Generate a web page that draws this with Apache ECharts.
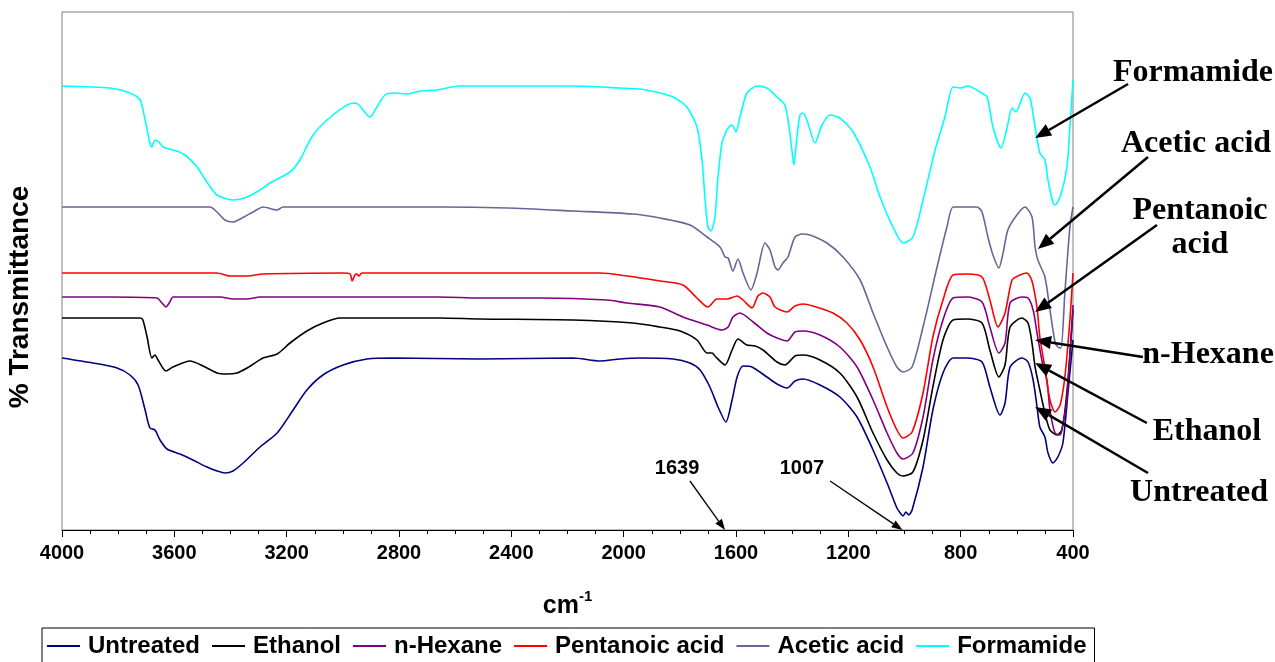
<!DOCTYPE html>
<html>
<head>
<meta charset="utf-8">
<script src="https://cdn.jsdelivr.net/npm/echarts@6/dist/echarts.min.js"></script>
<style>
html,body{margin:0;padding:0;background:#fff;}
#chart{width:1275px;height:662px;}
</style>
</head>
<body>
<div id="chart"></div>
<script>
// Wavenumber (cm-1) vs transmittance (arbitrary, stacked offsets as drawn)
const seriesNames = ['Untreated', 'Ethanol', 'n-Hexane', 'Pentanoic acid', 'Acetic acid', 'Formamide'];
const seriesColors = ['#000080', '#000000', '#800080', '#ff0000', '#666699', '#00ffff'];
const xTicks = [4000, 3600, 3200, 2800, 2400, 2000, 1600, 1200, 800, 400];

const untreated = [[4000,172],[3890,167],[3804,162],[3758,155],[3729,145],[3704,120],[3687,102],[3669,100],[3651,90],[3626,81],[3580,76],[3534,70],[3484,63],[3448,59],[3420,57],[3391,59],[3355,67],[3295,83],[3234,97],[3177,120],[3128,140],[3071,155],[2999,165],[2914,171],[2821,172],[2512,171],[2180,172],[2084,169],[2013,171],[1942,172],[1824,171],[1764,167],[1728,160],[1693,143],[1664,123],[1636,108],[1614,130],[1596,153],[1575,164],[1543,163],[1490,153],[1454,146],[1418,142],[1390,149],[1361,151],[1301,145],[1230,133],[1169,113],[1112,80],[1062,47],[1027,22],[1015,17],[1005,14],[995,18],[985,15],[973,20],[934,63],[899,120],[863,157],[827,172],[777,172],[724,168],[696,143],[660,115],[642,127],[624,163],[582,172],[560,168],[542,150],[528,123],[518,103],[500,93],[489,77],[471,67],[454,73],[436,87],[418,137],[400,190]];

const ethanol = [[4000,212],[3722,212],[3712,210],[3697,193],[3680,172],[3669,175],[3658,170],[3630,159],[3605,163],[3544,169],[3498,164],[3448,157],[3412,156],[3377,157],[3341,162],[3284,172],[3234,176],[3188,187],[3128,199],[3071,207],[3010,212],[2654,212],[2512,211],[2180,210],[1967,207],[1871,203],[1799,199],[1739,190],[1703,177],[1685,177],[1675,174],[1639,165],[1614,180],[1593,191],[1561,185],[1532,184],[1504,180],[1454,168],[1426,165],[1390,174],[1361,175],[1301,170],[1230,157],[1169,133],[1112,97],[1062,70],[1027,57],[1005,54],[970,58],[934,90],[899,143],[863,190],[827,210],[777,211],[724,207],[696,180],[664,153],[642,165],[624,203],[582,212],[560,207],[546,187],[535,163],[518,140],[500,117],[482,100],[457,95],[440,100],[422,137],[400,220]];

const nHexane = [[4000,233],[3829,233],[3662,232],[3644,227],[3630,223],[3616,228],[3605,233],[3437,233],[3391,231],[3341,231],[3295,233],[2654,233],[2512,232],[2298,232],[2059,230],[1988,227],[1871,223],[1789,213],[1703,205],[1650,200],[1628,203],[1611,213],[1586,217],[1539,208],[1490,197],[1454,192],[1418,189],[1390,198],[1361,199],[1301,195],[1230,183],[1169,163],[1112,130],[1062,97],[1027,77],[1005,71],[970,77],[934,113],[899,170],[863,210],[827,232],[777,233],[724,228],[696,203],[664,177],[642,187],[624,227],[582,233],[560,232],[542,220],[528,197],[511,170],[493,150],[482,120],[464,97],[446,95],[436,105],[422,130],[400,225]];

const pentanoic = [[4000,257],[3448,257],[3402,254],[3341,254],[3284,256],[2999,257],[2974,256],[2967,249],[2957,255],[2950,256],[2943,254],[2932,257],[2415,257],[2084,257],[1988,254],[1871,249],[1789,245],[1739,232],[1700,223],[1668,231],[1632,231],[1596,234],[1575,230],[1543,222],[1522,234],[1504,237],[1479,233],[1461,223],[1418,218],[1390,224],[1361,226],[1326,224],[1255,217],[1205,207],[1158,190],[1112,163],[1062,123],[1027,100],[1005,92],[973,98],[934,137],[899,193],[863,230],[827,255],[777,256],[724,253],[696,230],[667,203],[642,217],[617,250],[589,255],[564,257],[546,249],[528,222],[518,193],[500,162],[482,130],[464,118],[446,125],[429,153],[411,210],[400,257]];

const acetic = [[4000,323],[3473,323],[3448,318],[3420,310],[3391,308],[3359,312],[3320,318],[3284,323],[3234,320],[3213,323],[2654,323],[2415,322],[2180,319],[1967,316],[1871,312],[1764,305],[1703,293],[1657,283],[1639,273],[1628,272],[1611,259],[1593,271],[1575,257],[1547,240],[1525,257],[1497,287],[1479,280],[1461,263],[1450,260],[1433,267],[1415,273],[1390,293],[1365,296],[1337,295],[1276,287],[1219,273],[1158,250],[1112,217],[1062,183],[1027,163],[1005,158],[973,163],[934,203],[884,263],[849,303],[827,323],[792,323],[742,323],[724,318],[703,293],[685,275],[664,262],[649,277],[632,300],[600,315],[571,323],[546,313],[535,283],[525,270],[500,253],[482,220],[464,188],[454,183],[443,182],[429,237],[411,303],[400,323]];

const formamide = [[4000,444],[3829,442],[3758,437],[3722,430],[3704,410],[3687,387],[3680,383],[3669,390],[3655,388],[3640,383],[3591,379],[3562,375],[3519,363],[3484,348],[3448,335],[3391,330],[3341,333],[3295,340],[3259,347],[3188,358],[3153,370],[3106,395],[3035,415],[2964,427],[2946,426],[2903,413],[2885,420],[2850,435],[2821,437],[2768,436],[2725,439],[2665,440],[2583,444],[2415,444],[2180,444],[2013,442],[1942,441],[1871,437],[1824,433],[1775,423],[1739,403],[1721,370],[1710,330],[1700,303],[1689,299],[1675,313],[1664,353],[1650,387],[1636,398],[1625,403],[1614,405],[1600,398],[1586,413],[1561,437],[1525,444],[1490,442],[1454,433],[1426,425],[1411,403],[1401,380],[1394,365],[1383,393],[1372,415],[1361,417],[1344,407],[1319,387],[1294,405],[1265,415],[1230,412],[1183,398],[1123,363],[1087,333],[1041,303],[1005,287],[970,293],[934,330],[891,380],[856,413],[827,443],[802,442],[774,444],[731,438],[706,433],[685,403],[656,382],[635,402],[617,422],[603,418],[571,437],[553,432],[535,403],[518,377],[500,370],[489,350],[471,327],[464,325],[446,333],[422,362],[411,403],[400,450]];

// Annotations: label text, label centre, arrow start, arrow tip (data coordinates)
const annLabels = ['Formamide', 'Acetic acid', 'Pentanoic\nacid', 'n-Hexane', 'Ethanol', 'Untreated'];
const annLabelAt = [[-27,457],[-38,386],[-52,302],[-81,175],[-77,98],[-49,37]];
const annFrom = [[204,446],[133,373],[101,305],[151,173],[137,107],[133,57]];
const annTo = [[535,392],[525,281],[535,218],[535,190],[535,167],[535,123]];
const peakLabels = ['1639', '1007'];
const peakLabelAt = [[1810,62],[1365,62]];
const peakFrom = [[1764,49],[1265,49]];
const peakTo = [[1639,0],[1007,0]];

const allData = [untreated, ethanol, nHexane, pentanoic, acetic, formamide];

const chart = echarts.init(document.getElementById('chart'), null, {renderer: 'canvas'});

const option = {
  animation: false,
  backgroundColor: '#ffffff',
  color: seriesColors,
  grid: {left: 62, right: 202, top: 12, bottom: 132, show: true, borderColor: '#808080', borderWidth: 1, backgroundColor: 'transparent'},
  xAxis: {
    type: 'value', min: 400, max: 4000, interval: 400, inverse: true,
    axisLine: {show: true, lineStyle: {color: '#000', width: 1}},
    axisTick: {show: true, length: 7, lineStyle: {color: '#000'}},
    minorTick: {show: true, splitNumber: 4, length: 4, lineStyle: {color: '#000'}},
    splitLine: {show: false},
    axisLabel: {margin: 13, color: '#000', fontSize: 20, fontWeight: 'bold', fontFamily: 'Liberation Sans, Arial, sans-serif',
      formatter: function (v) { return xTicks.indexOf(v) >= 0 ? String(v) : ''; }},
    name: '{a|cm}{b|-1}', nameLocation: 'middle', nameGap: 59,
    nameTextStyle: {rich: {
      a: {fontSize: 25, fontWeight: 'bold', fontFamily: 'Liberation Sans, Arial, sans-serif', color: '#000', lineHeight: 30, verticalAlign: 'bottom'},
      b: {fontSize: 15, fontWeight: 'bold', fontFamily: 'Liberation Sans, Arial, sans-serif', color: '#000', lineHeight: 16, verticalAlign: 'top'}
    }}
  },
  yAxis: {
    type: 'value', min: 0, max: 518,
    axisLine: {show: false}, axisTick: {show: false}, axisLabel: {show: false}, splitLine: {show: false}
  },
  legend: {
    left: 42, top: 628,
    data: seriesNames,
    icon: 'rect', itemWidth: 33, itemHeight: 2, itemGap: 12,
    padding: [6, 8, 14, 5],
    borderColor: '#000', borderWidth: 1,
    textStyle: {fontSize: 24, fontWeight: 'bold', fontFamily: 'Liberation Sans, Arial, sans-serif', color: '#000', padding: [0, 0, 0, 3]}
  },
  series: seriesNames.map(function (name, i) {
    return {
      name: name, type: 'line', data: allData[i],
      showSymbol: false, symbol: 'none', smooth: 0.25,
      lineStyle: {width: 1.6, color: seriesColors[i]},
      itemStyle: {color: seriesColors[i]},
      z: 2 + i
    };
  })
};
chart.setOption(option);

function px(p) { return chart.convertToPixel({gridIndex: 0}, p); }

function arrowGraphics(from, to, width, headLen, headHalf) {
  const a = px(from), b = px(to);
  const dx = b[0] - a[0], dy = b[1] - a[1];
  const L = Math.sqrt(dx * dx + dy * dy);
  const ux = dx / L, uy = dy / L;
  const bx = b[0] - ux * headLen, by = b[1] - uy * headLen;
  return [
    {type: 'line', silent: true, z: 100, shape: {x1: a[0], y1: a[1], x2: bx, y2: by}, style: {stroke: '#000', lineWidth: width}},
    {type: 'polygon', silent: true, z: 100, shape: {points: [[b[0], b[1]], [bx - uy * headHalf, by + ux * headHalf], [bx + uy * headHalf, by - ux * headHalf]]}, style: {fill: '#000'}}
  ];
}

const g = [];
annLabels.forEach(function (t, i) {
  const c = px(annLabelAt[i]);
  g.push({type: 'text', silent: true, z: 100, x: c[0], y: c[1], style: {text: t, fill: '#000', font: 'bold 32px "Liberation Serif", "Times New Roman", serif', textAlign: 'center', textVerticalAlign: 'middle', lineHeight: 34}});
  arrowGraphics(annFrom[i], annTo[i], 2.5, 16, 6.5).forEach(function (e) { g.push(e); });
});
peakLabels.forEach(function (t, i) {
  const c = px(peakLabelAt[i]);
  g.push({type: 'text', silent: true, z: 100, x: c[0], y: c[1], style: {text: t, fill: '#000', font: 'bold 20px "Liberation Sans", Arial, sans-serif', textAlign: 'center', textVerticalAlign: 'middle'}});
  arrowGraphics(peakFrom[i], peakTo[i], 1.3, 11, 4).forEach(function (e) { g.push(e); });
});
g.push({type: 'text', silent: true, z: 100, x: 20, y: 297, rotation: Math.PI / 2, style: {text: '% Transmittance', fill: '#000', font: 'bold 28px "Liberation Sans", Arial, sans-serif', textAlign: 'center', textVerticalAlign: 'middle'}});
chart.setOption({graphic: g});
</script>
</body>
</html>
